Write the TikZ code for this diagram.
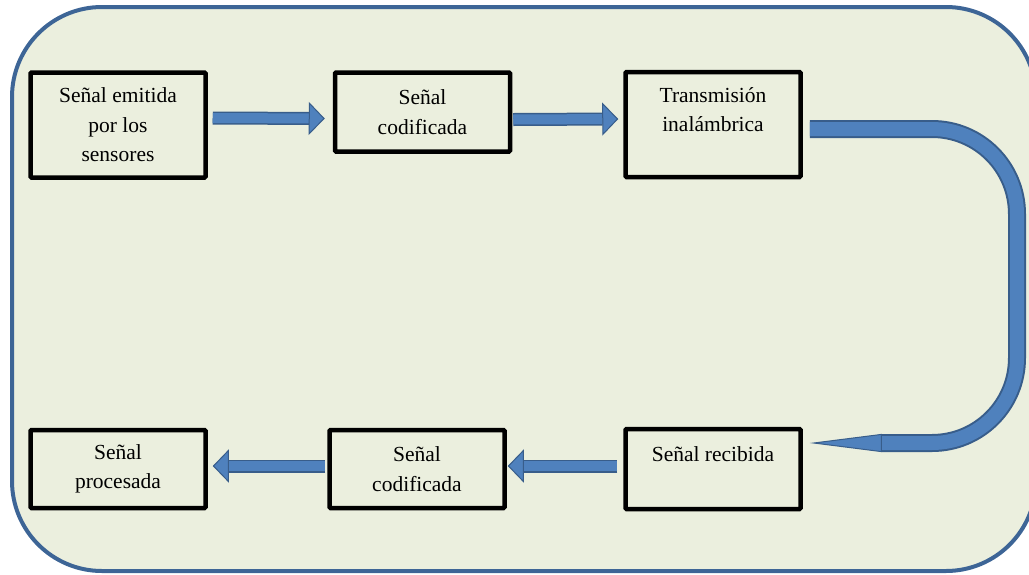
\documentclass[tikz,border=0pt]{standalone}
\usepackage{fontspec}
\setmainfont{Liberation Serif}
\usetikzlibrary{arrows.meta}

\definecolor{panelfill}{HTML}{EBEFDE}
\definecolor{paneledge}{HTML}{3D6596}
\definecolor{flowfill}{HTML}{4F81BD}
\definecolor{flowedge}{HTML}{385D8A}

\begin{document}
\begin{tikzpicture}[x=1pt,y=-1pt,
    stage/.style={draw=black,line width=4.5pt,rounded corners=1pt,
      minimum width=175pt,align=center,
      font=\fontsize{21.5}{29.5}\selectfont},
    blockarrow/.style={draw=flowedge,line width=1.5pt,double=flowfill,
      double distance=10pt,-{Triangle[width=33pt,length=16pt,fill=flowfill,color=flowedge,line width=1pt]}},
    bendarrow/.style={draw=flowedge,line width=2pt,double=flowfill,
      double distance=14pt,rounded corners=85pt,
      -{Triangle[width=18pt,length=72pt,fill=flowfill,color=flowedge,line width=1pt]}}]
    \useasboundingbox (0,0) rectangle (1029,574);
    \draw[paneledge,fill=panelfill,line width=4pt,rounded corners=90pt] (12,7) rectangle (1036,571);

    % top row
    \node[stage,minimum height=105pt] (emitida) at (118,125) {Señal emitida\\por los\\sensores};
    \node[stage,minimum height=79pt] (codif) at (422.5,112) {Señal\\codificada};
    \node[stage,minimum height=105pt] (trans) at (713,124.5) {Transmisión\\inalámbrica\\\mbox{}};
    % bottom row
    \node[stage,minimum height=78pt] (procesada) at (118,469) {Señal\\procesada};
    \node[stage,minimum height=78pt] (decod) at (417,469) {Señal\\codificada};
    \node[stage,minimum height=80pt] (recibida) at (713,469) {Señal recibida\\\mbox{}};

    \draw[blockarrow] ([xshift=5pt,yshift=7pt]emitida.east) -- ([xshift=-8pt,yshift=-6.5pt]codif.west);
    \draw[blockarrow] ([xshift=1pt,yshift=-7.5pt]codif.east) -- ([xshift=-5pt,yshift=5.5pt]trans.west);

    \coordinate (rim) at (1017,0);
    \coordinate (out3) at ([xshift=7pt,yshift=-4.5pt]trans.east);
    \coordinate (in6) at ([xshift=7pt,yshift=26pt]recibida.east);
    \draw[bendarrow] (out3) -- (out3 -| rim) -- (in6 -| rim) -- (in6);

    \draw[blockarrow] ([xshift=-6pt,yshift=3pt]recibida.west) -- ([xshift=1pt,yshift=3pt]decod.east);
    \draw[blockarrow] ([xshift=-2pt,yshift=3pt]decod.west) -- ([xshift=5pt,yshift=3pt]procesada.east);
  \end{tikzpicture}
\end{document}
